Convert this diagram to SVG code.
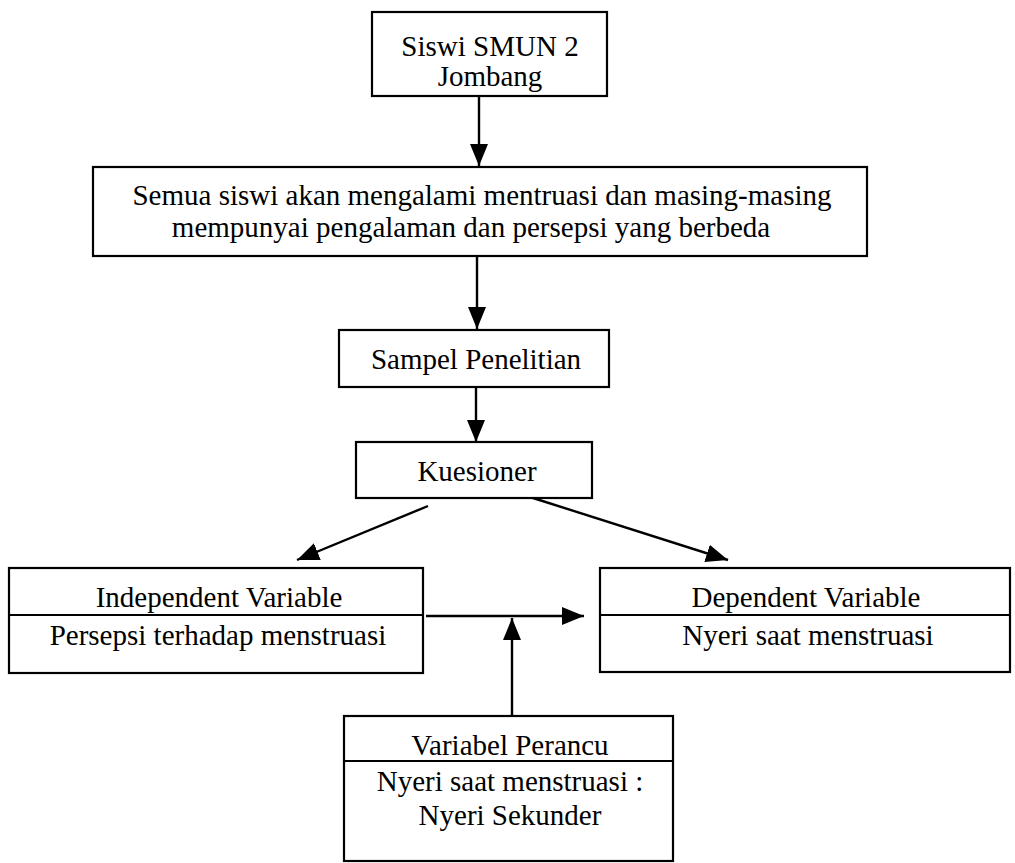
<svg xmlns="http://www.w3.org/2000/svg" width="1015" height="863" viewBox="0 0 1015 863">
  <defs>
    <marker id="arrow" markerUnits="userSpaceOnUse" markerWidth="22" markerHeight="18" refX="22" refY="9" orient="auto">
      <path d="M0,0 L22,9 L0,18 z" fill="#000"/>
    </marker>
    <style>
      .box { fill: #fff; stroke: #000; stroke-width: 2.2; }
      .div { stroke: #000; stroke-width: 2.2; }
      .t { font-family: "Liberation Serif", "Times New Roman", serif; font-size: 29px; fill: #000; text-anchor: middle; }
      .conn { stroke: #000; stroke-width: 2.4; fill: none; marker-end: url(#arrow); }
    </style>
  </defs>
  <rect width="1015" height="863" fill="#fff"/>

  <g id="connectors">
    <line class="conn" x1="479" y1="96" x2="479" y2="166"/>
    <line class="conn" x1="477" y1="256" x2="477" y2="329"/>
    <line class="conn" x1="476" y1="387" x2="476" y2="442"/>
    <line class="conn" x1="428" y1="506" x2="297" y2="560"/>
    <line class="conn" x1="533" y1="498" x2="728" y2="560"/>
    <line class="conn" x1="426" y1="616" x2="584" y2="616"/>
    <line class="conn" x1="512" y1="716" x2="512" y2="618"/>
  </g>

  <g id="siswi">
    <rect class="box" x="372" y="12" width="235" height="84"/>
    <text class="t" x="490" y="56">Siswi SMUN 2</text>
    <text class="t" x="490" y="86">Jombang</text>
  </g>

  <g id="semua">
    <rect class="box" x="93" y="167" width="774" height="89"/>
    <text class="t" x="482" y="205">Semua siswi akan mengalami mentruasi dan masing-masing</text>
    <text class="t" x="471" y="237">mempunyai pengalaman dan persepsi yang berbeda</text>
  </g>

  <g id="sampel">
    <rect class="box" x="339" y="330" width="270" height="57"/>
    <text class="t" x="476" y="369">Sampel Penelitian</text>
  </g>

  <g id="kuesioner">
    <rect class="box" x="356" y="442" width="236" height="56"/>
    <text class="t" x="477" y="481">Kuesioner</text>
  </g>

  <g id="independent">
    <rect class="box" x="9" y="568" width="414" height="105"/>
    <line class="div" x1="9" y1="615" x2="423" y2="615"/>
    <text class="t" x="219" y="607">Independent Variable</text>
    <text class="t" x="218" y="645">Persepsi terhadap menstruasi</text>
  </g>

  <g id="dependent">
    <rect class="box" x="600" y="568" width="410" height="104"/>
    <line class="div" x1="600" y1="615" x2="1010" y2="615"/>
    <text class="t" x="806" y="607">Dependent Variable</text>
    <text class="t" x="808" y="645">Nyeri saat menstruasi</text>
  </g>

  <g id="perancu">
    <rect class="box" x="344" y="716" width="329" height="145"/>
    <line class="div" x1="344" y1="761" x2="673" y2="761"/>
    <text class="t" x="510" y="755">Variabel Perancu</text>
    <text class="t" x="510" y="791">Nyeri saat menstruasi :</text>
    <text class="t" x="510" y="825">Nyeri Sekunder</text>
  </g>
</svg>
